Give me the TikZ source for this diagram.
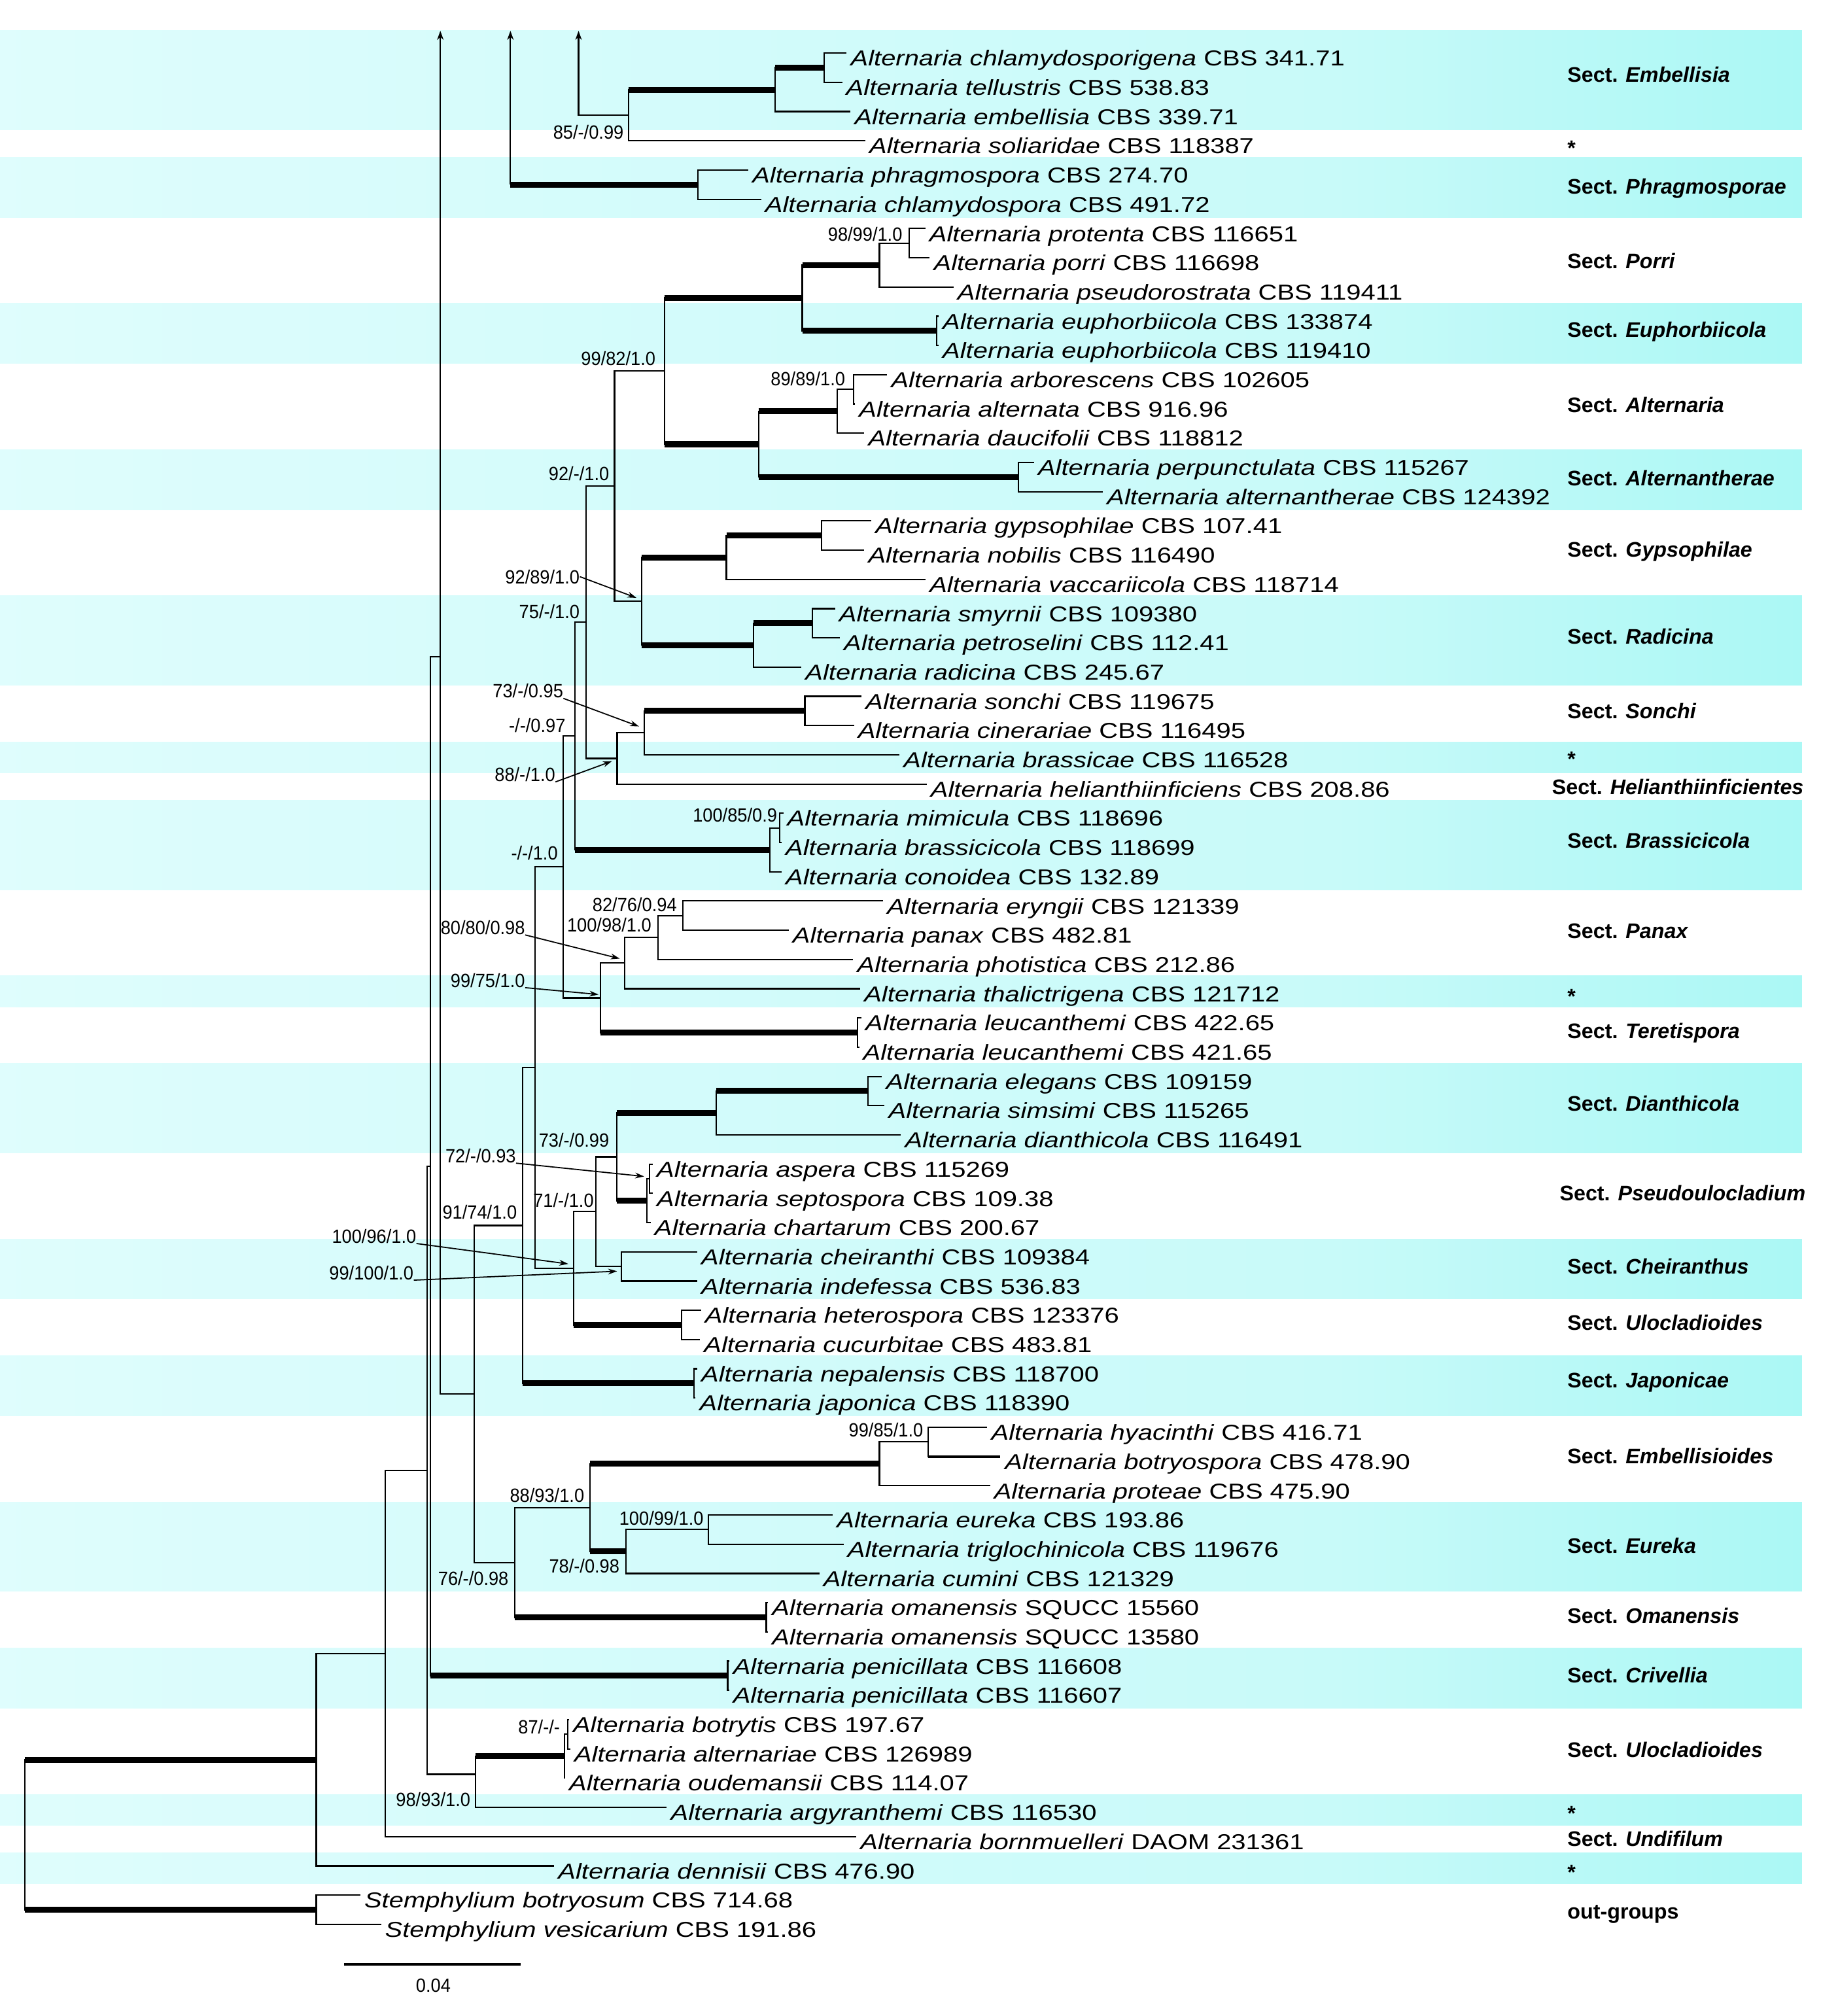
\documentclass[tikz,border=0pt]{standalone}
\usepackage{fontspec}
\setmainfont{Liberation Sans}
\newfontfamily\tipfont[FakeStretch=1.21]{Liberation Sans}
\newfontfamily\bsfont[FakeStretch=0.93]{Liberation Sans}
\usetikzlibrary{arrows.meta}

\definecolor{bandA}{RGB}{232,254,254}
\definecolor{bandB}{RGB}{200,250,249}
\definecolor{bandC}{RGB}{115,244,236}
\pgfdeclarehorizontalshading{bandshade}{100bp}{color(0bp)=(white); color(10bp)=(bandA); color(62bp)=(bandB); color(100bp)=(bandC)}

\begin{document}
\begin{tikzpicture}[x=1pt, y=-1pt,
    branch/.style={line width=1.1pt, line cap=rect},
    heavy/.style={line width=4.6pt},
    uparrow/.style={line width=1.1pt, -{Stealth[length=7pt,width=5pt]}},
    pointer/.style={line width=0.9pt, -{Stealth[length=7pt,width=4.5pt]}},
    tip/.style={anchor=west, inner xsep=3.5pt, inner ysep=0pt, text height=20pt, text depth=0pt, font=\tipfont\fontsize{16.8}{18}\selectfont},
    bs/.style={anchor=east, inner sep=0pt, font=\bsfont\fontsize{14.9}{16}\selectfont},
    sect/.style={anchor=base west, inner sep=0pt, font=\bfseries\fontsize{16.4}{18}\selectfont}]

        % Canvas
        \fill[white] (0,0) rectangle (1416,1568);
        \useasboundingbox (0,0) rectangle (1416,1568);

        % Bands
        \shade[shading=bandshade] (0,23.5) rectangle (1401.6,{41.3+22.74*2+14});
        \foreach \a/\b in {5/6,10/11,15/16,20/22,25/25,27/29,33/33,36/38,42/43,46/47,51/53,56/57,61/61,63/63} {
            \shade[shading=bandshade] (0,{41.3+22.74*(\a-1)-10}) rectangle (1401.6,{41.3+22.74*(\b-1)+14});
        }

        % Tips
        \foreach \i/\x/\sp/\id in {
            1/658.0/Alternaria chlamydosporigena/CBS 341.71,
            2/654.5/Alternaria tellustris/CBS 538.83,
            3/661.0/Alternaria embellisia/CBS 339.71,
            4/672.5/Alternaria soliaridae/CBS 118387,
            5/581.5/Alternaria phragmospora/CBS 274.70,
            6/591.5/Alternaria chlamydospora/CBS 491.72,
            7/719.2/Alternaria protenta/CBS 116651,
            8/722.6/Alternaria porri/CBS 116698,
            9/741.1/Alternaria pseudorostrata/CBS 119411,
            10/729.5/Alternaria euphorbiicola/CBS 133874,
            11/729.5/Alternaria euphorbiicola/CBS 119410,
            12/689.5/Alternaria arborescens/CBS 102605,
            13/664.5/Alternaria alternata/CBS 916.96,
            14/671.7/Alternaria daucifolii/CBS 118812,
            15/803.7/Alternaria perpunctulata/CBS 115267,
            16/857.3/Alternaria alternantherae/CBS 124392,
            17/677.2/Alternaria gypsophilae/CBS 107.41,
            18/671.7/Alternaria nobilis/CBS 116490,
            19/719.4/Alternaria vaccariicola/CBS 118714,
            20/649.0/Alternaria smyrnii/CBS 109380,
            21/652.7/Alternaria petroselini/CBS 112.41,
            22/622.8/Alternaria radicina/CBS 245.67,
            23/669.6/Alternaria sonchi/CBS 119675,
            24/663.7/Alternaria cinerariae/CBS 116495,
            25/699.1/Alternaria brassicae/CBS 116528,
            26/720.2/Alternaria helianthiinficiens/CBS 208.86,
            27/608.7/Alternaria mimicula/CBS 118696,
            28/607.4/Alternaria brassicicola/CBS 118699,
            29/607.4/Alternaria conoidea/CBS 132.89,
            30/686.3/Alternaria eryngii/CBS 121339,
            31/612.9/Alternaria panax/CBS 482.81,
            32/663.1/Alternaria photistica/CBS 212.86,
            33/668.5/Alternaria thalictrigena/CBS 121712,
            34/669.5/Alternaria leucanthemi/CBS 422.65,
            35/667.7/Alternaria leucanthemi/CBS 421.65,
            36/685.5/Alternaria elegans/CBS 109159,
            37/687.5/Alternaria simsimi/CBS 115265,
            38/700.2/Alternaria dianthicola/CBS 116491,
            39/507.2/Alternaria aspera/CBS 115269,
            40/507.2/Alternaria septospora/CBS 109.38,
            41/505.5/Alternaria chartarum/CBS 200.67,
            42/541.8/Alternaria cheiranthi/CBS 109384,
            43/541.8/Alternaria indefessa/CBS 536.83,
            44/544.7/Alternaria heterospora/CBS 123376,
            45/543.9/Alternaria cucurbitae/CBS 483.81,
            46/541.8/Alternaria nepalensis/CBS 118700,
            47/540.5/Alternaria japonica/CBS 118390,
            48/767.4/Alternaria hyacinthi/CBS 416.71,
            49/777.9/Alternaria botryospora/CBS 478.90,
            50/769.5/Alternaria proteae/CBS 475.90,
            51/647.2/Alternaria eureka/CBS 193.86,
            52/655.6/Alternaria triglochinicola/CBS 119676,
            53/636.7/Alternaria cumini/CBS 121329,
            54/596.8/Alternaria omanensis/SQUCC 15560,
            55/596.8/Alternaria omanensis/SQUCC 13580,
            56/566.5/Alternaria penicillata/CBS 116608,
            57/566.5/Alternaria penicillata/CBS 116607,
            58/442.0/Alternaria botrytis/CBS 197.67,
            59/443.0/Alternaria alternariae/CBS 126989,
            60/439.0/Alternaria oudemansii/CBS 114.07,
            61/518.1/Alternaria argyranthemi/CBS 116530,
            62/665.5/Alternaria bornmuelleri/DAOM 231361,
            63/430.5/Alternaria dennisii/CBS 476.90,
            64/279.7/Stemphylium botryosum/CBS 714.68,
            65/295.8/Stemphylium vesicarium/CBS 191.86} {
            \node[tip] (tip\i) at (\x,{41.3+22.74*(\i-1)}) {\textit{\sp} \id};
        }

        % Internal nodes
        \coordinate (top) at (0,24);
        \foreach \n/\x/\y in {ROOT/19.5/1426.9, ING/246/1368.6, OUT/246/1485.29, N300/299.5/1285.97,
            N332/332.3/1143.5, N335/334.7/907.04, N343/342.5/510.7, CRI/566/1303.37,
            N370/370/1380, ULO/439/1365.9, ULOa/441.5/1348.85,
            NC369/369/1084.21, N406/406.5/953.17, JAP/540/1075.97, N416/416/830.37,
            N438/438/674.3, N447/447/572.5, BRC/599/660.97, BRCa/606.5/643.91,
            N456/456/484.02, N478/478/378.14, N517/517/288.6, PE/624/231.75, PO/684/206.17,
            POa/707/189.11, EU/728.5/257.33, AA/590/345.45, AL/651/319.87, ALa/664/302.81,
            AT/792/371.03, N499/499/467.68, GY/565/433.57, GYa/639/416.51, RA/586/501.79,
            RAa/632/484.73, N480/480/589.9, N501/501/570.0, SO/626/552.95,
            N467/467/776.09, N486/486/749.08, N512/512/729.19, N531/531/712.13, TE/667/803.09,
            N446/446/986.43, N463/463.5/942.38, N479/479.8/899.74, DI/557/865.63, DIa/675/848.57,
            PS/503.2/933.85, PSa/505.3/916.79, CH/483.2/985.01, UL/530/1030.49,
            N400/400.5/1215.25, N459/459/1172.61, EM/684/1138.5, EMa/722/1121.45,
            EK/487/1206.72, EKa/551/1189.67, OM/596/1257.89,
            arE/450/89.62, ES/489/89.62, EB/603/69.73, EBa/641/52.67,
            arP/397/143.63, PH/543/143.63} {
            \coordinate (\n) at (\x,\y);
        }

        % Vertical bars
        \foreach \p/\a/\b in {ROOT/ING/OUT, OUT/tip64.west/tip65.west, ING/N300/tip63.west,
            N300/N332/tip62.west, N332/N335/N370, N335/N343/CRI, CRI/tip56.west/tip57.west,
            N370/ULO/tip61.west, ULO/ULOa/tip60.west, ULOa/tip58.west/tip59.west,
            NC369/N406/N400, N406/N416/JAP, JAP/tip46.west/tip47.west, N416/N438/N446,
            N438/N447/N467, N447/N456/BRC, BRC/BRCa/tip29.west, BRCa/tip27.west/tip28.west,
            N456/N478/N480, N478/N517/N499, N517/PE/AA, PE/PO/EU, PO/POa/tip9.west,
            POa/tip7.west/tip8.west, EU/tip10.west/tip11.west, AA/AL/AT, AL/ALa/tip14.west,
            ALa/tip12.west/tip13.west, AT/tip15.west/tip16.west, N499/GY/RA, GY/GYa/tip19.west,
            GYa/tip17.west/tip18.west, RA/RAa/tip22.west, RAa/tip20.west/tip21.west,
            N480/N501/tip26.west, N501/SO/tip25.west, SO/tip23.west/tip24.west,
            N467/N486/TE, TE/tip34.west/tip35.west, N486/N512/tip33.west, N512/N531/tip32.west,
            N531/tip30.west/tip31.west, N446/N463/UL, UL/tip44.west/tip45.west, N463/N479/CH,
            CH/tip42.west/tip43.west, N479/DI/PS, DI/DIa/tip38.west, DIa/tip36.west/tip37.west,
            PS/PSa/tip41.west, PSa/tip39.west/tip40.west, N400/N459/OM, OM/tip54.west/tip55.west,
            N459/EM/EK, EM/EMa/tip50.west, EMa/tip48.west/tip49.west, EK/EKa/tip53.west,
            EKa/tip51.west/tip52.west, ES/EB/tip4.west, EB/EBa/tip3.west,
            EBa/tip1.west/tip2.west, PH/tip5.west/tip6.west} {
            \draw[branch] (\p |- \a) -- (\p |- \b);
        }

        % Thin branches
        \foreach \p/\c in {OUT/tip64.west, OUT/tip65.west, ING/N300, ING/tip63.west, N300/N332,
            N300/tip62.west, N332/N335, N332/N370, N335/N343, CRI/tip56.west, CRI/tip57.west,
            N370/tip61.west, ULO/ULOa, ULO/tip60.west, ULOa/tip58.west, ULOa/tip59.west,
            N343/NC369, NC369/N406, NC369/N400, N406/N416, JAP/tip46.west, JAP/tip47.west,
            N416/N438, N416/N446, N438/N447, N438/N467, N447/N456, BRC/BRCa, BRC/tip29.west,
            BRCa/tip27.west, BRCa/tip28.west, N456/N478, N456/N480, N478/N517, N478/N499,
            PO/POa, PO/tip9.west, POa/tip7.west, POa/tip8.west, EU/tip10.west, EU/tip11.west,
            AL/ALa, AL/tip14.west, ALa/tip12.west, ALa/tip13.west, AT/tip15.west, AT/tip16.west,
            GY/tip19.west, GYa/tip17.west, GYa/tip18.west, RA/tip22.west, RAa/tip20.west,
            RAa/tip21.west, N480/N501, N480/tip26.west, N501/tip25.west, SO/tip23.west,
            SO/tip24.west, N467/N486, TE/tip34.west, TE/tip35.west, N486/N512, N486/tip33.west,
            N512/N531, N512/tip32.west, N531/tip30.west, N531/tip31.west, N446/N463,
            UL/tip44.west, UL/tip45.west, N463/N479, N463/CH, CH/tip42.west, CH/tip43.west,
            DI/tip38.west, DIa/tip36.west, DIa/tip37.west, PS/PSa, PS/tip41.west,
            PSa/tip39.west, PSa/tip40.west, N400/N459, OM/tip54.west, OM/tip55.west, EM/EMa,
            EM/tip50.west, EMa/tip48.west, EK/EKa, EK/tip53.west, EKa/tip51.west,
            EKa/tip52.west, arE/ES, ES/tip4.west, EB/tip3.west, EBa/tip1.west, EBa/tip2.west,
            PH/tip5.west, PH/tip6.west} {
            \draw[branch] (\p |- \c) -- (\c);
        }
        \draw[line width=2pt] (EMa |- tip49.west) -- (tip49.west);

        % Supported branches
        \foreach \p/\c in {ROOT/ING, ROOT/OUT, N335/CRI, N370/ULO, N406/JAP, N447/BRC, N517/PE,
            N517/AA, PE/PO, PE/EU, AA/AL, AA/AT, N499/GY, N499/RA, GY/GYa, RA/RAa, N501/SO,
            N467/TE, N446/UL, N479/DI, N479/PS, DI/DIa, N400/OM, N459/EM, N459/EK,
            ES/EB, EB/EBa, arP/PH} {
            \draw[heavy] (\p |- \c) -- (\c);
        }

        % Arrows to the top
        \draw[uparrow] (N343 |- NC369) -- (N343 |- top);
        \draw[uparrow] (arP) -- (arP |- top);
        \draw[uparrow] (arE) -- (arE |- top);

        % Support values
        \node[bs] (bsES) at (485.2,102.7) {85/-/0.99};
        \node[bs] (bsPOa) at (702,182) {98/99/1.0};
        \node[bs] (bsN517) at (510,279) {99/82/1.0};
        \node[bs] (bsALa) at (657.5,294.5) {89/89/1.0};
        \node[bs] (bsN478) at (474,368.5) {92/-/1.0};
        \node[bs] (bsN499) at (451,448.5) {92/89/1.0};
        \node[bs] (bsN456) at (451,475.7) {75/-/1.0};
        \node[bs] (bsN501) at (438.2,537.5) {73/-/0.95};
        \node[bs] (bsN447) at (440,564) {-/-/0.97};
        \node[bs] (bsN480) at (432,602.5) {88/-/1.0};
        \node[bs] (bsBRCa) at (604.6,634) {100/85/0.9};
        \node[bs] (bsN438) at (434,663.5) {-/-/1.0};
        \node[bs] (bsN531) at (526.6,703.5) {82/76/0.94};
        \node[bs] (bsN512) at (506.8,719.5) {100/98/1.0};
        \node[bs] (bsN486) at (408.5,721.5) {80/80/0.98};
        \node[bs] (bsN467) at (408.5,762.5) {99/75/1.0};
        \node[bs] (bsN479) at (474,887) {73/-/0.99};
        \node[bs] (bsPSa) at (401.4,899) {72/-/0.93};
        \node[bs] (bsN463) at (462,933.5) {71/-/1.0};
        \node[bs] (bsN406) at (402.2,942.5) {91/74/1.0};
        \node[bs] (bsN446) at (323.9,961.5) {100/96/1.0};
        \node[bs] (bsCH) at (321.8,990) {99/100/1.0};
        \node[bs] (bsEMa) at (718.2,1112) {99/85/1.0};
        \node[bs] (bsN459) at (454.6,1163) {88/93/1.0};
        \node[bs] (bsEKa) at (547.4,1181) {100/99/1.0};
        \node[bs] (bsEK) at (482,1218) {78/-/0.98};
        \node[bs] (bsN400) at (395.7,1227.5) {76/-/0.98};
        \node[bs] (bsULOa) at (435.7,1343.3) {87/-/-};
        \node[bs] (bsN370) at (366,1399.5) {98/93/1.0};

        % Pointers from values to nodes
        \draw[pointer] (bsN499.east) -- ([shift={(-4,-2.7)}]N499);
        \draw[pointer] (bsN501.south east) -- ([shift={(-4,-5)}]N501);
        \draw[pointer] (bsN480.south east) -- ([shift={(-4,2.1)}]N480);
        \draw[pointer] (bsN486.south east) -- ([shift={(-4,-3.5)}]N486);
        \draw[pointer] (bsN467.south east) -- ([shift={(-1.5,-2.6)}]N467);
        \draw[pointer] (bsPSa.south east) -- ([shift={(-4.3,-1.8)}]PSa);
        \draw[pointer] (bsN446.south east) -- ([shift={(-4,-3.4)}]N446);
        \draw[pointer] (bsCH.south east) -- ([shift={(-3.2,3.7)}]CH);

        % Sections
        \foreach \x/\y/\nm [count=\k] in {1219/57.8/Embellisia, 1219/144.8/Phragmosporae,
            1219/202.6/Porri, 1219/256.4/Euphorbiicola, 1219/315/Alternaria,
            1219/372/Alternantherae, 1219/427/Gypsophilae, 1219/495/Radicina, 1219/553/Sonchi,
            1207/612/Helianthiinficientes, 1219/653.6/Brassicicola, 1219/724/Panax,
            1219/801.5/Teretispora, 1219/858/Dianthicola, 1213/928/Pseudoulocladium,
            1219/984.7/Cheiranthus, 1219/1028.8/Ulocladioides, 1219/1073.5/Japonicae,
            1219/1132.5/Embellisioides, 1219/1201.8/Eureka, 1219/1256.7/Omanensis,
            1219/1303/Crivellia, 1219/1361/Ulocladioides, 1219/1430/Undifilum} {
            \node[sect] (sect\k) at (\x,{\y+6}) {Sect. \textit{\nm}};
        }
        \node[sect] (outg) at (1219,1492.6) {out-groups};
        \foreach \y [count=\k] in {111.6,587,771.8,1407,1453} {
            \node[sect] (star\k) at (1219,{\y+9}) {*};
        }

        % Scale bar
        \coordinate (sbL) at (267.6,1528);
        \coordinate (sbR) at (404.9,1528);
        \draw[line width=2pt] (sbL) -- (sbR);
        \node[bs, anchor=center] (sblab) at (337,1544.5) {0.04};
    \end{tikzpicture}
\end{document}
